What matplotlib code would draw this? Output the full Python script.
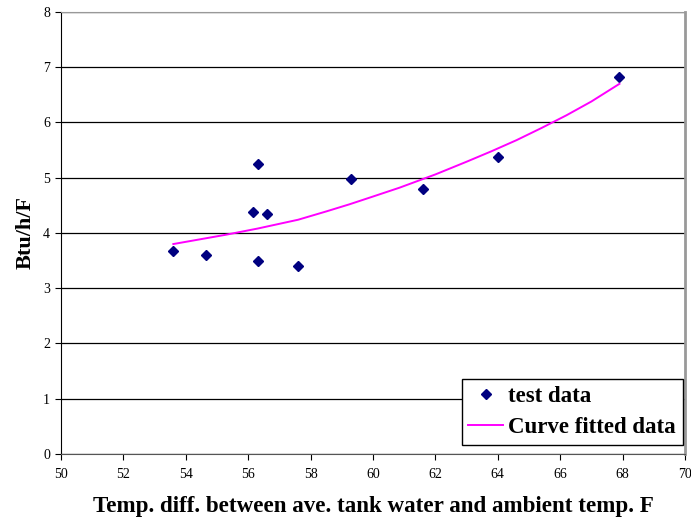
import matplotlib.pyplot as plt

# test data
temp_diff = [53.6, 54.65, 56.15, 56.3, 56.3, 56.6, 57.6, 59.3, 61.6, 64.0, 67.9]
btu_h_f = [3.67, 3.61, 4.38, 5.24, 3.49, 4.35, 3.41, 4.98, 4.80, 5.38, 6.82]

# curve fitted data
fit_x = [53.6, 54.4, 55.3, 56.3, 57.6, 58.5, 59.25, 60.0, 60.85, 62.0, 63.0, 63.8, 64.6, 65.4, 66.2, 67.0, 67.9]
fit_y = [3.80, 3.88, 3.97, 4.08, 4.24, 4.39, 4.52, 4.66, 4.82, 5.06, 5.29, 5.48, 5.68, 5.90, 6.13, 6.38, 6.70]

plt.rcParams['font.family'] = ['Liberation Serif', 'DejaVu Serif']

fig = plt.figure(figsize=(6.91, 5.21), dpi=100)
ax = fig.add_axes([0.0883, 0.1286, 0.9030, 0.8484])

ax.plot(temp_diff, btu_h_f, ls='none', marker='D', ms=5.5, color='#000080', label='test data')
ax.plot(fit_x, fit_y, color='#FF00FF', lw=1.4, label='Curve fitted data')

ax.set_xlim(50, 70)
ax.set_ylim(0, 8)
ax.set_xticks(range(50, 71, 2))
ax.set_yticks(range(0, 9))
ax.yaxis.grid(True, color='black', lw=0.9)
ax.set_axisbelow(True)
ax.tick_params(direction='out', length=4, labelsize=10)
ax.tick_params(axis='x', pad=6)
ax.tick_params(axis='y', pad=4)

ax.spines['left'].set_color('black')
ax.spines['bottom'].set_color('#555555')
ax.spines['top'].set_color('#999999')
ax.spines['right'].set_color('#999999')
ax.spines['right'].set_linewidth(2)

ax.set_xlabel('Temp. diff. between ave. tank water and ambient temp. F',
              fontsize=16.6, fontweight='bold', labelpad=11)
ax.set_ylabel('Btu/h/F', fontsize=16, fontweight='bold')
ax.yaxis.set_label_coords(-0.040, 0.5)

leg = ax.legend(loc='lower right', bbox_to_anchor=(0.9968, 0.0203), borderaxespad=0,
                fancybox=False, edgecolor='black', framealpha=1, borderpad=0.3,
                handlelength=1.5, handletextpad=0.25, labelspacing=0.45,
                prop={'size': 16.5, 'weight': 'bold'})
leg.get_frame().set_linewidth(1.0)

fig.savefig('out.png', dpi=100)
